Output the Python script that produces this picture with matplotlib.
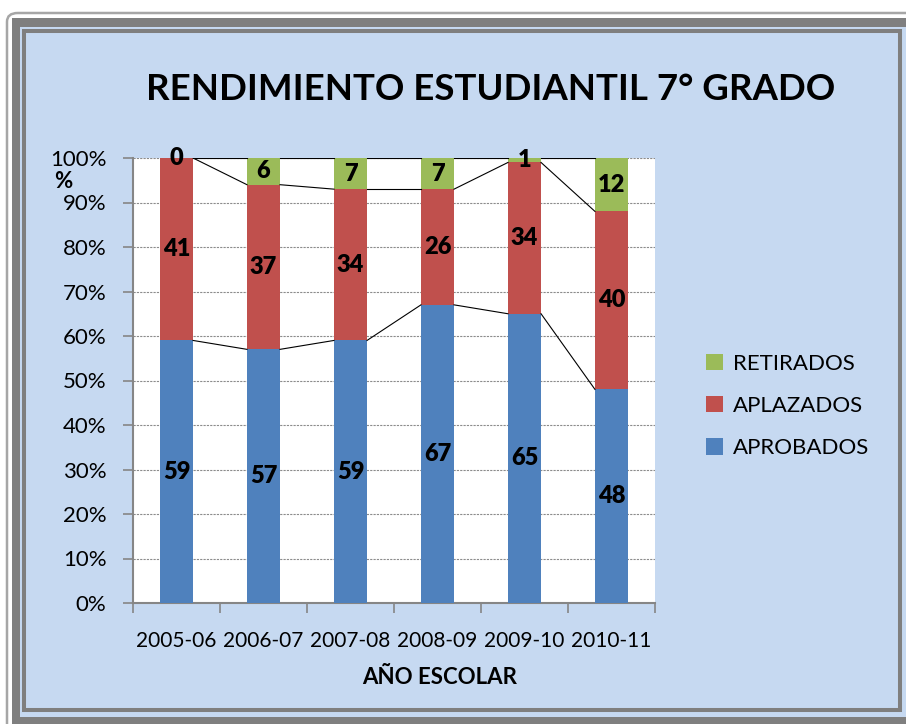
import matplotlib
matplotlib.use("Agg")
import matplotlib.pyplot as plt
from matplotlib.patches import Rectangle, FancyBboxPatch
import numpy as np

plt.rcParams['font.family'] = ['Lato', 'DejaVu Sans']

categories = ["2005-06", "2006-07", "2007-08", "2008-09", "2009-10", "2010-11"]
aprobados = [59, 57, 59, 67, 65, 48]
aplazados = [41, 37, 34, 26, 34, 40]
retirados = [0, 6, 7, 7, 1, 12]
yticks = [0, 10, 20, 30, 40, 50, 60, 70, 80, 90, 100]
title = "RENDIMIENTO ESTUDIANTIL 7° GRADO"
xlabel = "AÑO ESCOLAR"
ylabel = "%"

W, H = 906, 724
fig = plt.figure(figsize=(W / 100, H / 100), dpi=100)
fig.patch.set_facecolor("white")

def fx(x):
    return x / W

def fy(y):
    return 1 - y / H

# borders
fig.patches.append(FancyBboxPatch((fx(7), fy(740)), fx(920), 740 / H - 13 / H,
                                  boxstyle="round,pad=0,rounding_size=0.012",
                                  transform=fig.transFigure, facecolor="white",
                                  edgecolor="#a6a6a6", lw=1.8, zorder=-5))
fig.patches.append(Rectangle((fx(12), fy(740)), fx(920), (740 - 18) / H,
                             transform=fig.transFigure, facecolor="#7f7f7f",
                             edgecolor="none", zorder=-4))
fig.patches.append(Rectangle((fx(20), fy(717)), fx(900), (717 - 27) / H,
                             transform=fig.transFigure, facecolor="#c6d9f1",
                             edgecolor="none", zorder=-3))
fig.patches.append(Rectangle((fx(24), fy(710)), fx(876), (710 - 31) / H,
                             transform=fig.transFigure, facecolor="#c6d9f1",
                             edgecolor="#7f7f7f", lw=2.9, zorder=-2))

ax = fig.add_axes([fx(133), fy(603), fx(522), 445 / H])
ax.set_facecolor("white")
ax.set_zorder(1)

x = np.arange(len(categories))
bw = 0.38
a = np.array(aprobados, dtype=float)
p = np.array(aplazados, dtype=float)
r = np.array(retirados, dtype=float)
tot = a + p + r
a_pct = a / tot * 100
p_pct = p / tot * 100
r_pct = r / tot * 100

c_blue, c_red, c_green = "#4f81bd", "#c0504d", "#9bbb59"
b1 = ax.bar(x, a_pct, bw, color=c_blue, label="APROBADOS", zorder=3)
b2 = ax.bar(x, p_pct, bw, bottom=a_pct, color=c_red, label="APLAZADOS", zorder=3)
b3 = ax.bar(x, r_pct, bw, bottom=a_pct + p_pct, color=c_green, label="RETIRADOS", zorder=3)

# series lines
for cum in (a_pct, a_pct + p_pct, a_pct + p_pct + r_pct):
    for i in range(len(x) - 1):
        ax.plot([x[i] + bw / 2, x[i + 1] - bw / 2], [cum[i], cum[i + 1]],
                color="black", lw=0.8, zorder=4)

# data labels
lab_kw = dict(ha="center", va="center", fontsize=17, fontweight="heavy", zorder=5)
for i in range(len(x)):
    ax.text(x[i], a_pct[i] / 2, f"{aprobados[i]}", **lab_kw)
    ax.text(x[i], a_pct[i] + p_pct[i] / 2, f"{aplazados[i]}", **lab_kw)
    ax.text(x[i], a_pct[i] + p_pct[i] + r_pct[i] / 2, f"{retirados[i]}", **lab_kw)

ax.set_xlim(-0.5, len(x) - 0.5)
ax.set_ylim(0, 100)
ax.set_yticks(yticks)
ax.set_yticklabels([f"{v}%" for v in yticks], fontsize=16)
ax.yaxis.grid(True, color="#8c8c8c", lw=0.8, linestyle=(0, (2, 1)), zorder=1)
ax.set_xticks(x)
ax.set_xticklabels(categories, fontsize=15)
ax.set_xticks(np.arange(-0.5, len(x)), minor=True)
ax.tick_params(axis="x", which="major", length=0, pad=20)
ax.tick_params(axis="x", which="minor", length=7, color="#868686", width=1.2)
ax.tick_params(axis="y", length=7, color="#868686", width=1.2, pad=12)
for s in ("top", "right"):
    ax.spines[s].set_visible(False)
for s in ("left", "bottom"):
    ax.spines[s].set_color("#868686")
    ax.spines[s].set_linewidth(1.5)

fig.text(fx(491), fy(90), title, ha="center", va="center", fontsize=26.4, fontweight="bold")
fig.text(fx(440), fy(677), xlabel, ha="center", va="center", fontsize=16, fontweight="bold")
fig.text(fx(63), fy(181), ylabel, ha="center", va="center", fontsize=16, fontweight="bold")

handles = [b3, b2, b1]
leg = fig.legend(handles, [h.get_label() for h in handles], loc="center left",
                 bbox_to_anchor=(fx(697), fy(406)), frameon=False, fontsize=16,
                 handlelength=0.75, handleheight=0.75, handletextpad=0.45,
                 labelspacing=1.0, borderaxespad=0)

fig.savefig("out.png", dpi=100)
